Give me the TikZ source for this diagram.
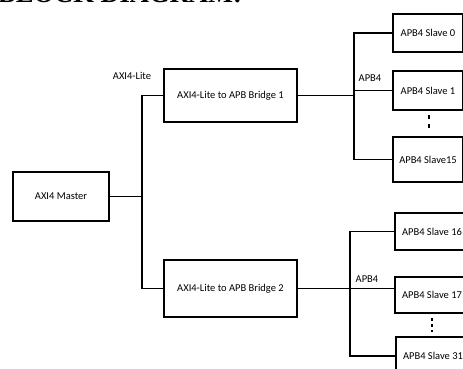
\documentclass[tikz,border=0pt]{standalone}
\usepackage{fontspec}
\setmainfont{Carlito}
\newfontfamily\headfont{Liberation Serif}
\usetikzlibrary{positioning}

\begin{document}
\begin{tikzpicture}[
  x=1pt, y=-1pt,
  font=\fontsize{10.5}{12}\selectfont,
  box/.style={draw, line width=2.2pt, inner sep=2pt, align=center},
  slave/.style={box, minimum width=70pt},
  wire/.style={line width=1.7pt},
  lbl/.style={inner sep=1pt}
]
  \useasboundingbox (0,0) rectangle (463,369);
  \node[anchor=base west, font=\headfont\bfseries\fontsize{26.5}{28}\selectfont, inner sep=0pt] (title) at (-2,3) {BLOCK DIAGRAM:};

  \node[box, minimum width=96pt, minimum height=49pt] (master) at (61,196.5) {AXI4 Master};
  \node[box, minimum width=133pt, minimum height=53pt] (br1) at (230.5,95.5) {AXI4-Lite to APB Bridge 1};
  \node[box, minimum width=133pt, minimum height=57pt] (br2) at (230.5,288.5) {AXI4-Lite to APB Bridge 2};

  \node[slave, minimum height=38pt] (s0) at (428,33) {APB4 Slave 0};
  \node[slave, minimum height=39pt] (s1) at (428,90.5) {APB4 Slave 1};
  \node[slave, minimum height=45pt] (s15) at (428,159.5) {APB4 Slave15};
  \node[slave, minimum width=74pt, minimum height=37pt] (s16) at (432,231.5) {APB4 Slave 16};
  \node[slave, minimum width=74pt, minimum height=36pt] (s17) at (432,295) {APB4 Slave 17};
  \node[slave, minimum width=74pt, minimum height=38pt] (s31) at (433,356) {APB4 Slave 31};

  \coordinate (trunk) at (142,196.5);
  \coordinate (bus1) at (354,95.5);
  \coordinate (bus2) at (350,288.5);

  % AXI4-Lite side
  \draw[wire] (master.east) -- (trunk);
  \draw[wire] (br1.west) -| (trunk) |- (br2.west);
  \node[lbl] (axil) at (132,76) {AXI4-Lite};

  % APB4 bus 1
  \draw[wire] (br1.east) -- (bus1);
  \draw[wire] (s0.west) -| (bus1) |- (s15.west);
  \draw[wire] (bus1 |- s1.west) -- (s1.west);
  \node[lbl] (apb1) at (370,78) {APB4};
  \draw[line width=2pt, dash pattern=on 4pt off 5pt] (s1.south -| 429,0) ++(0,4) -- ++(0,13);

  % APB4 bus 2
  \draw[wire] (br2.east) -- (bus2 -| s17.west);
  \draw[wire] (s16.west) -| (bus2) |- (s31.west);
  \node[lbl] (apb2) at (367,279) {APB4};
  \draw[line width=1.6pt, dash pattern=on 3pt off 3pt] (s17.south -| 432,0) ++(0,4) -- ++(0,14);
\end{tikzpicture}
\end{document}
